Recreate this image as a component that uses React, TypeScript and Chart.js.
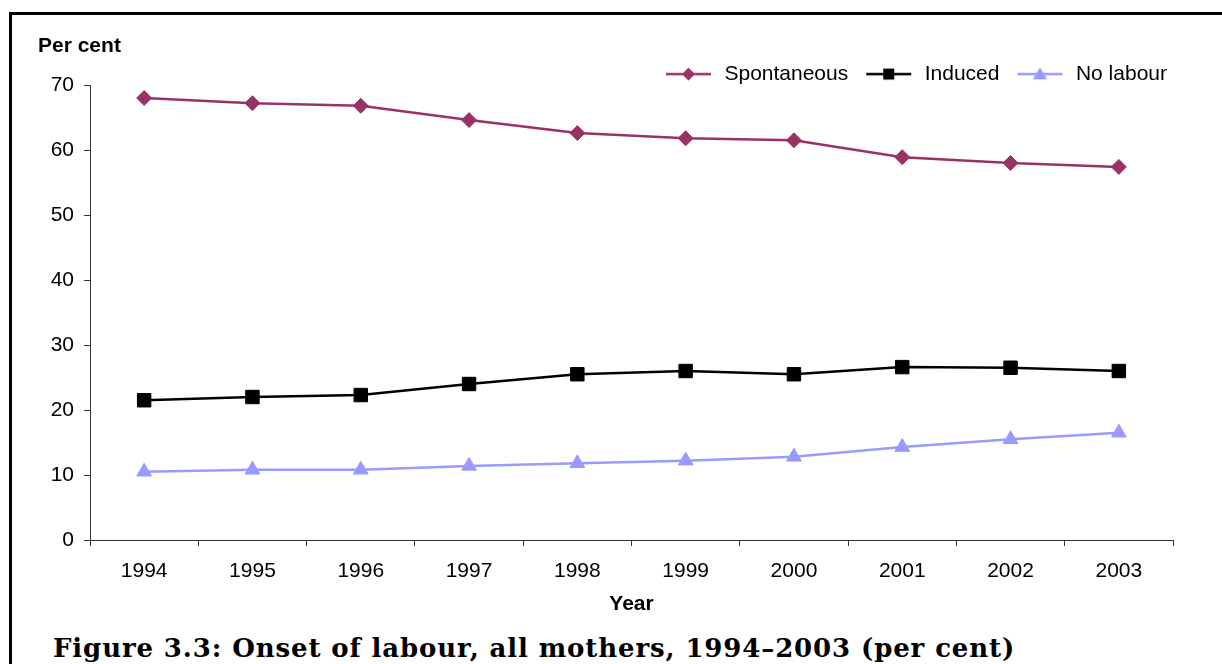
import React, { useEffect, useRef } from "react";
import { Chart, registerables } from "chart.js";

Chart.register(...registerables);

const years = ["1994", "1995", "1996", "1997", "1998", "1999", "2000", "2001", "2002", "2003"];
const spontaneous = [68.0, 67.2, 66.8, 64.6, 62.6, 61.8, 61.5, 58.9, 58.0, 57.4];
const induced = [21.5, 22.0, 22.3, 24.0, 25.5, 26.0, 25.5, 26.6, 26.5, 26.0];
const noLabour = [10.5, 10.8, 10.8, 11.4, 11.8, 12.2, 12.8, 14.3, 15.5, 16.5];
const seriesNames = ["Spontaneous", "Induced", "No labour"];
const seriesColors = ["#993366", "#000000", "#9999FF"];
const yTicks = [0, 10, 20, 30, 40, 50, 60, 70];

const FONT = "'Liberation Sans', Arial, sans-serif";
const FS = 21;
const ICON_LEAD = 12;
const ICON_LINE = 45;
const ICON_TRAIL = 3;

function makeIcon(color: string, shape: string): HTMLCanvasElement {
  const c = document.createElement("canvas");
  c.width = ICON_LEAD + ICON_LINE + ICON_TRAIL;
  c.height = 20;
  const ctx = c.getContext("2d")!;
  const cy = 10;
  const cx = ICON_LEAD + ICON_LINE / 2;
  ctx.strokeStyle = color;
  ctx.lineWidth = 2.5;
  ctx.beginPath();
  ctx.moveTo(ICON_LEAD, cy);
  ctx.lineTo(ICON_LEAD + ICON_LINE, cy);
  ctx.stroke();
  ctx.fillStyle = color;
  ctx.beginPath();
  if (shape === "diamond") {
    const r = 6.5;
    ctx.moveTo(cx, cy - r);
    ctx.lineTo(cx + r, cy);
    ctx.lineTo(cx, cy + r);
    ctx.lineTo(cx - r, cy);
  } else if (shape === "square") {
    const h = 5.5;
    ctx.rect(cx - h, cy - h, 2 * h, 2 * h);
  } else {
    const r = 7;
    ctx.moveTo(cx, cy - r);
    ctx.lineTo(cx + r, cy + r * 0.75);
    ctx.lineTo(cx - r, cy + r * 0.75);
  }
  ctx.closePath();
  ctx.fill();
  return c;
}

export default function App() {
  const ref = useRef<HTMLCanvasElement | null>(null);

  useEffect(() => {
    if (!ref.current) return;
    const icons = [
      makeIcon(seriesColors[0], "diamond"),
      makeIcon(seriesColors[1], "square"),
      makeIcon(seriesColors[2], "triangle"),
    ];
    const values = [spontaneous, induced, noLabour];
    const styles = ["rectRot", "rect", "triangle"];
    const radii = [7.5, 9.5, 8.5];
    const chart = new Chart(ref.current, {
      type: "line",
      data: {
        labels: years,
        datasets: values.map((v, i) => ({
          label: seriesNames[i],
          data: v,
          borderColor: seriesColors[i],
          backgroundColor: seriesColors[i],
          borderWidth: 2.5,
          pointStyle: styles[i] as any,
          pointRadius: radii[i],
          pointBorderWidth: 1,
          pointBackgroundColor: seriesColors[i],
          pointBorderColor: seriesColors[i],
          tension: 0,
        })),
      },
      options: {
        responsive: false,
        animation: false,
        events: [],
        font: { family: FONT, size: FS },
        color: "#000",
        layout: { padding: { left: 38, right: 49, top: 0, bottom: 0 } },
        plugins: {
          tooltip: { enabled: false },
          title: {
            display: true,
            text: "Per cent",
            align: "start",
            color: "#000",
            font: { family: FONT, size: FS, weight: "bold" },
            padding: { top: 33.4, bottom: -1 },
          },
          legend: {
            display: true,
            position: "top",
            align: "end",
            maxHeight: 27.4,
            labels: {
              usePointStyle: true,
              pointStyleWidth: ICON_LEAD + ICON_LINE + ICON_TRAIL,
              padding: 6,
              color: "#000",
              font: { family: FONT, size: FS },
              generateLabels: (ch: any) => {
                const items = Chart.defaults.plugins.legend.labels.generateLabels(ch);
                return items.map((it: any, i: number) => ({ ...it, pointStyle: icons[i] }));
              },
            },
          },
        },
        scales: {
          x: {
            type: "category",
            offset: true,
            grid: {
              offset: true,
              drawOnChartArea: false,
              drawTicks: true,
              tickLength: 6,
              color: "#333",
              lineWidth: 1,
            },
            border: { display: true, color: "#333", width: 1 },
            ticks: { color: "#000", font: { family: FONT, size: FS }, padding: 13, maxRotation: 0 },
            title: {
              display: true,
              text: "Year",
              color: "#000",
              font: { family: FONT, size: FS, weight: "bold" },
              padding: { top: 0, bottom: 3 },
            },
            afterFit: (s: any) => {
              s.height = 80;
            },
          },
          y: {
            min: 0,
            max: 70,
            afterBuildTicks: (s: any) => {
              s.ticks = yTicks.map((v) => ({ value: v }));
            },
            grid: {
              drawOnChartArea: false,
              drawTicks: true,
              tickLength: 6,
              color: "#333",
              lineWidth: 1,
            },
            border: { display: true, color: "#333", width: 1 },
            ticks: { color: "#000", font: { family: FONT, size: FS }, padding: 10 },
            afterFit: (s: any) => {
              s.width = 52;
            },
          },
        },
      },
    } as any);
    return () => chart.destroy();
  }, []);

  return (
    <div
      style={{
        position: "fixed",
        left: 0,
        top: 0,
        width: 1222,
        height: 664,
        overflow: "hidden",
        background: "#fff",
      }}
    >
      <div
        style={{
          position: "absolute",
          left: 9,
          top: 12,
          width: 1400,
          height: 900,
          border: "3px solid #000",
          boxSizing: "border-box",
        }}
      />
      <canvas
        ref={ref}
        width={1222}
        height={620}
        style={{ position: "absolute", left: 0, top: 0, width: 1222, height: 620 }}
      />
      <div
        style={{
          position: "absolute",
          left: 53,
          top: 633,
          fontFamily: "'DejaVu Serif', 'Liberation Serif', serif",
          fontWeight: "bold",
          fontSize: 26,
          letterSpacing: "0.88px",
          lineHeight: "30px",
          whiteSpace: "nowrap",
          color: "#000",
        }}
      >
        Figure 3.3: Onset of labour, all mothers, 1994–2003 (per cent)
      </div>
    </div>
  );
}
